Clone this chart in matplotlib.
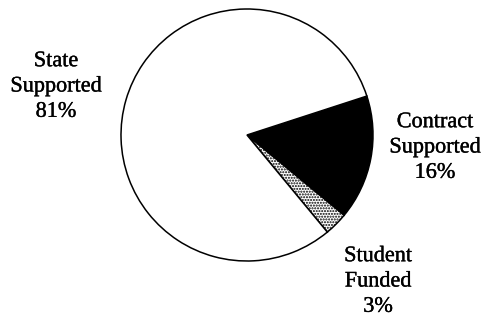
import matplotlib
matplotlib.use('Agg')
import matplotlib.pyplot as plt
import matplotlib.patheffects as pe

# Funding shares (percent)
labels = ['Contract\nSupported\n16%', 'Student\nFunded\n3%', 'State\nSupported\n81%']
shares = [16, 3, 81]
colors = ['black', 'white', 'white']

plt.rcParams['font.family'] = 'serif'
plt.rcParams['font.serif'] = ['Liberation Serif', 'Times New Roman', 'DejaVu Serif']

W, H = 483, 320
fig = plt.figure(figsize=(W / 100, H / 100), dpi=100)
fig.patch.set_facecolor('white')

# pie centre and radius in pixels
cx, cy, r = 247, 135, 126
ax = fig.add_axes([(cx - r) / W, (H - cy - r) / H, 2 * r / W, 2 * r / H])

wedges, _ = ax.pie(shares, colors=colors, startangle=18, counterclock=False,
                   radius=1.0,
                   wedgeprops=dict(edgecolor='black', linewidth=1.1))
for w in wedges:
    w.set_clip_on(False)

# stippled slice for student funding
wedges[1].set_hatch('......')

ax.set_xlim(-1, 1)
ax.set_ylim(-1, 1)
ax.set_aspect('equal')
ax.axis('off')

# label positions (pixel x, pixel y of middle line)
label_pos = [(435, 148), (378, 282), (56, 87)]
for txt, (px, py) in zip(labels, label_pos):
    fig.text(px / W, 1 - py / H, txt, ha='center', va='center',
             multialignment='center', fontsize=16, linespacing=1.45,
             path_effects=[pe.withStroke(linewidth=0.25, foreground='black')])

fig.savefig('out.png', dpi=100)
